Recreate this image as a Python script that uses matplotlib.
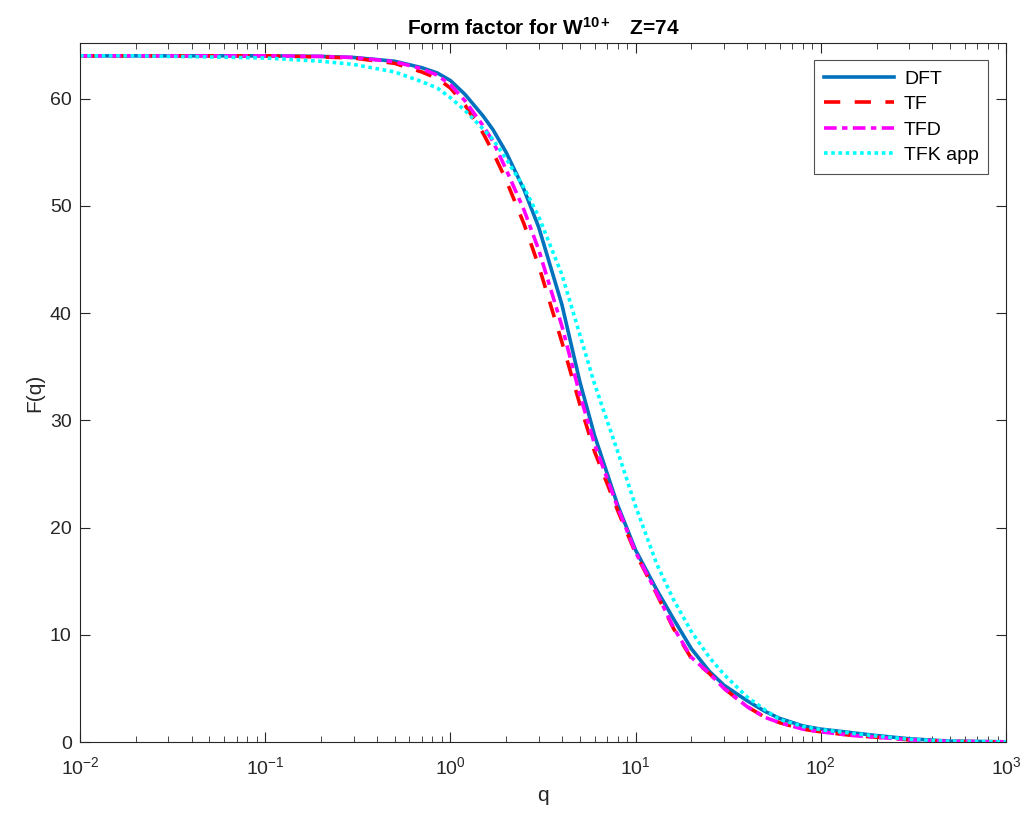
import matplotlib
matplotlib.use("Agg")
import matplotlib.pyplot as plt
from matplotlib.ticker import LogLocator, FixedLocator

plt.rcParams['font.family'] = ['Liberation Sans', 'DejaVu Sans']
plt.rcParams['mathtext.fontset'] = 'custom'
plt.rcParams['mathtext.rm'] = 'Liberation Sans'
plt.rcParams['mathtext.it'] = 'Liberation Sans:italic'
plt.rcParams['mathtext.bf'] = 'Liberation Sans:bold'

# momentum transfer grid
q = [0.01, 0.02, 0.05, 0.1, 0.2, 0.3, 0.5, 0.7, 0.85, 1, 1.2, 1.5, 1.7, 2,
     2.5, 3, 4, 5, 6, 8, 10, 13, 16, 20, 25, 30, 40, 50, 60, 80, 100, 150,
     200, 300, 500, 1000]

F_dft = [64.0, 64.0, 64.0, 64.0, 63.95, 63.85, 63.5, 62.9, 62.4, 61.7, 60.4,
         58.4, 57.1, 55.0, 51.5, 48.0, 40.8, 33.6, 28.6, 22.1, 17.9, 14.2,
         11.5, 8.7, 6.6, 5.3, 3.85, 2.85, 2.2, 1.5, 1.2, 0.85, 0.6, 0.3,
         0.08, 0.02]
F_tf = [64.0, 64.0, 64.0, 64.0, 63.9, 63.8, 63.3, 62.5, 61.9, 61.0, 59.4,
        56.8, 55.0, 52.4, 48.3, 44.4, 37.3, 31.5, 27.1, 21.6, 17.6, 13.8,
        10.6, 7.8, 6.4, 5.0, 3.3, 2.3, 1.8, 1.2, 0.95, 0.6, 0.45, 0.2,
        0.05, 0.01]
F_tfd = [64.0, 64.0, 64.0, 64.0, 63.95, 63.85, 63.45, 62.8, 62.2, 61.3, 59.8,
         57.5, 56.0, 53.4, 49.6, 45.9, 38.8, 32.4, 27.8, 21.9, 17.7, 13.9,
         10.7, 7.9, 6.4, 5.0, 3.3, 2.3, 1.8, 1.2, 0.95, 0.6, 0.45, 0.2,
         0.05, 0.01]
F_tfk = [64.0, 64.0, 63.9, 63.8, 63.5, 63.2, 62.5, 61.6, 61.0, 60.1, 58.9,
         57.2, 56.2, 54.4, 51.7, 49.0, 43.6, 38.0, 33.4, 27.1, 22.0, 16.6,
         13.3, 10.3, 7.9, 6.3, 4.2, 3.0, 2.1, 1.45, 1.15, 0.8, 0.55, 0.25,
         0.06, 0.01]

fig = plt.figure(figsize=(10.24, 8.21), dpi=100)
ax = fig.add_axes([80/1024, 79/821, 926/1024, 699/821])

lw = 2.6
ax.plot(q, F_dft, color='#0072BD', lw=lw, ls='-', label='DFT')
ax.plot(q, F_tf, color='#FF0000', lw=lw, ls=(0, (4.5, 4)), label='TF')
ax.plot(q, F_tfd, color='#FF00FF', lw=lw, ls=(0, (3.5, 1.5, 1.5, 1.5)), label='TFD')
ax.plot(q, F_tfk, color='#00FFFF', lw=lw, ls=(0, (1, 1)), label='TFK app')

ax.set_xscale('log')
ax.set_xlim(1e-2, 1e3)
ax.set_ylim(0, 65.2)
ax.yaxis.set_major_locator(FixedLocator([0, 10, 20, 30, 40, 50, 60]))
ax.xaxis.set_major_locator(LogLocator(base=10, numticks=10))
ax.xaxis.set_minor_locator(LogLocator(base=10, subs=range(2, 10), numticks=20))

gray = '#262626'
for s in ax.spines.values():
    s.set_color(gray)
    s.set_linewidth(0.8)
ax.tick_params(which='both', direction='in', top=True, right=True, colors=gray,
               labelsize=14)
ax.tick_params(which='major', length=7, width=0.8, pad=6)
ax.tick_params(which='minor', length=4, width=0.6)
ax.tick_params(axis='x', which='major', pad=10)

ax.set_xlabel('q', fontsize=15, color=gray, labelpad=6)
ax.set_ylabel('F(q)', fontsize=15, color=gray, labelpad=4)
ax.set_title(r'Form factor for $\mathbf{W^{10+}}$   Z=74', fontsize=15,
             fontweight='bold', pad=6)

leg = ax.legend(loc='upper right', fontsize=14, frameon=True, fancybox=False,
                edgecolor=gray, handlelength=3.6, borderaxespad=0.9,
                labelspacing=0.4, handletextpad=0.5, borderpad=0.5)
leg.get_frame().set_linewidth(0.8)

fig.savefig('out.png', dpi=100)
